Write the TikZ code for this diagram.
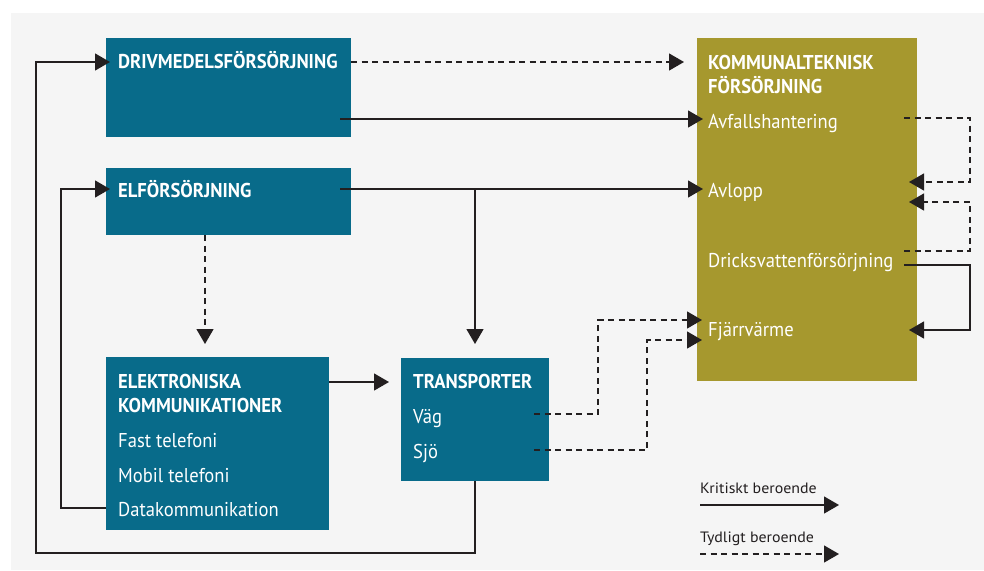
\documentclass[tikz,border=0pt]{standalone}
\usepackage{fontspec}
\setmainfont{PT Sans}[FakeStretch=0.93]
\newfontfamily\lgdfont{PT Sans}[FakeStretch=1.06]
\usetikzlibrary{arrows.meta}
\definecolor{bluebx}{RGB}{8,107,138}
\definecolor{olivebx}{RGB}{166,152,46}
\definecolor{lncol}{RGB}{35,31,32}
\definecolor{bgcol}{RGB}{245,245,245}
\tikzset{
  bluebox/.style={fill=bluebx, draw=none, anchor=north west, inner sep=0pt},
  olivebox/.style={fill=olivebx, draw=none, anchor=north west, inner sep=0pt},
  hdr/.style={text=white, font=\fontsize{20}{24}\selectfont\bfseries, anchor=base west, inner sep=0pt},
  itm/.style={text=white, font=\fontsize{20}{24}\selectfont, anchor=base west, inner sep=0pt},
  lgd/.style={text=lncol, font=\lgdfont\fontsize{15}{18}\selectfont, anchor=base west, inner sep=0pt},
  conn/.style={draw=lncol, line width=1.3pt},
  crit/.style={conn, -{Triangle[length=15pt,width=17pt]}},
  clear/.style={conn, dash pattern=on 6pt off 4.5pt, -{Triangle[length=15pt,width=17pt]}},
}
\begin{document}
\begin{tikzpicture}[x=1pt,y=-1pt]
\fill[white] (0,0) rectangle (984,570);
\fill[bgcol] (11,13) rectangle (984,570);
\useasboundingbox (0,0) rectangle (984,570);

% boxes
\node[bluebox, minimum width=245pt, minimum height=99pt] (drv) at (106,38) {};
\node[bluebox, minimum width=245pt, minimum height=67pt] (elf) at (106,168) {};
\node[bluebox, minimum width=223pt, minimum height=173pt] (ele) at (106,357) {};
\node[bluebox, minimum width=148pt, minimum height=123pt] (tra) at (401,358) {};
\node[olivebox, minimum width=220pt, minimum height=343pt] (kom) at (697,38) {};

% texts
\node[hdr] (drvT) at (118,68) {DRIVMEDELSFÖRSÖRJNING};
\node[hdr] (elfT) at (118,197) {ELFÖRSÖRJNING};
\node[hdr] (eleT1) at (118,388) {ELEKTRONISKA};
\node[hdr] (eleT2) at (118,412) {KOMMUNIKATIONER};
\node[itm] (fast) at (118,447) {Fast telefoni};
\node[itm] (mob) at (118,482) {Mobil telefoni};
\node[itm] (data) at (118,516) {Datakommunikation};
\node[hdr] (traT) at (413,388) {TRANSPORTER};
\node[itm] (vag) at (413,423) {Väg};
\node[itm] (sjo) at (413,458) {Sjö};
\node[hdr] (komT1) at (708,69) {KOMMUNALTEKNISK};
\node[hdr] (komT2) at (708,93) {FÖRSÖRJNING};
\node[itm] (avf) at (708,128) {Avfallshantering};
\node[itm] (avl) at (708,197) {Avlopp};
\node[itm] (dri) at (708,267) {Dricksvattenförsörjning};
\node[itm] (fja) at (708,336) {Fjärrvärme};
\node[lgd] (lk) at (700,493) {Kritiskt beroende};
\node[lgd] (lt) at (700,542) {Tydligt beroende};

% connection points
\coordinate (drvOutD) at (351,62);
\coordinate (komInD) at (684,62);
\coordinate (drvOutS) at (340,119);
\coordinate (avfIn) at (703,119);
\coordinate (elfOut) at (340,189);
\coordinate (avlIn) at (703,189);
\coordinate (elfBr) at (475,189);
\coordinate (traIn) at (475,344);
\coordinate (elfDown) at (205,235);
\coordinate (eleIn) at (205,344);
\coordinate (eleOut) at (329,382);
\coordinate (traInL) at (389,382);
\coordinate (vagOut) at (534,414);
\coordinate (vagC1) at (598,414);
\coordinate (vagC2) at (598,320);
\coordinate (fjaIn1) at (702,320);
\coordinate (sjoOut) at (534,450);
\coordinate (sjoC1) at (647,450);
\coordinate (sjoC2) at (647,340);
\coordinate (fjaIn2) at (702,340);
\coordinate (avfOut) at (904,118);
\coordinate (r1a) at (970,118);
\coordinate (r1b) at (970,182);
\coordinate (avlInR1) at (909,182);
\coordinate (driOut1) at (904,251);
\coordinate (r2a) at (970,251);
\coordinate (r2b) at (970,202);
\coordinate (avlInR2) at (909,202);
\coordinate (driOut2) at (904,265);
\coordinate (r3a) at (970,265);
\coordinate (r3b) at (970,330);
\coordinate (fjaInR) at (909,330);
\coordinate (traOut) at (475,481);
\coordinate (l1a) at (475,553);
\coordinate (l1b) at (36,553);
\coordinate (l1c) at (36,62);
\coordinate (drvIn) at (110,62);
\coordinate (dataOut) at (106,508);
\coordinate (l2a) at (61,508);
\coordinate (l2b) at (61,189);
\coordinate (elfIn) at (110,189);
\coordinate (lk1) at (700,505);
\coordinate (lk2) at (839,505);
\coordinate (lt1) at (700,554);
\coordinate (lt2) at (839,554);

% connectors
\draw[clear] (drvOutD) -- (komInD);
\draw[crit] (drvOutS) -- (avfIn);
\draw[crit] (elfOut) -- (avlIn);
\draw[crit] (elfBr) -- (traIn);
\draw[clear] (elfDown) -- (eleIn);
\draw[crit] (eleOut) -- (traInL);
\draw[clear] (vagOut) -- (vagC1) -- (vagC2) -- (fjaIn1);
\draw[clear] (sjoOut) -- (sjoC1) -- (sjoC2) -- (fjaIn2);
\draw[clear] (avfOut) -- (r1a) -- (r1b) -- (avlInR1);
\draw[clear] (driOut1) -- (r2a) -- (r2b) -- (avlInR2);
\draw[crit] (driOut2) -- (r3a) -- (r3b) -- (fjaInR);
\draw[crit] (traOut) -- (l1a) -- (l1b) -- (l1c) -- (drvIn);
\draw[crit] (dataOut) -- (l2a) -- (l2b) -- (elfIn);
\draw[crit] (lk1) -- (lk2);
\draw[clear] (lt1) -- (lt2);
\end{tikzpicture}
\end{document}
